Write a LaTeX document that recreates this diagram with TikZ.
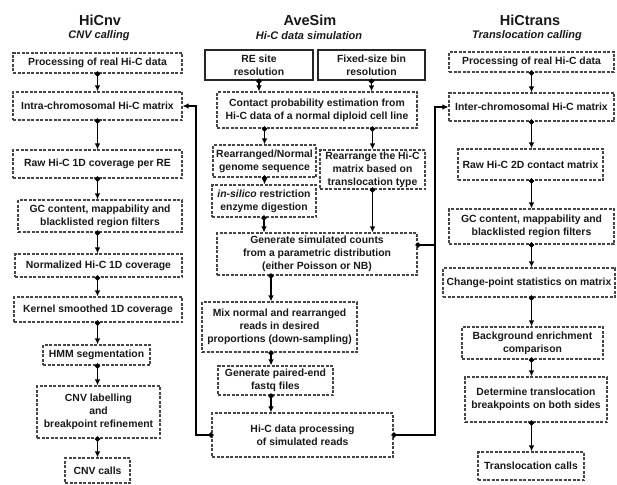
\documentclass[tikz,border=0pt]{standalone}
\usepackage{fontspec}
\setmainfont{Liberation Sans}
\usetikzlibrary{arrows.meta, positioning}
\definecolor{boxline}{RGB}{70, 70, 70}
\definecolor{boxtext}{RGB}{25, 25, 25}

\begin{document}
\begin{tikzpicture}[x=1pt, y=-1pt,
    dbox/.style={draw=boxline, dash pattern=on 3pt off 1.5pt, line width=1.1pt, align=center,
        inner sep=1pt, text=boxtext, font=\fontsize{10.4}{13}\selectfont\bfseries},
    sbox/.style={dbox, solid, draw=black!85, line width=1.5pt},
    title/.style={text=boxtext, font=\fontsize{14.5}{16}\selectfont\bfseries},
    subtitle/.style={text=boxtext, font=\fontsize{11}{13}\selectfont\bfseries\itshape},
    conn/.style={line width=1.7pt, shorten <=-2pt, {Circle[length=5pt]}-{Latex[length=6pt, width=5.5pt]}},
    joinline/.style={line width=1.7pt, shorten <=-2pt, {Circle[length=5pt]}-}]
        \useasboundingbox (0,0) rectangle (617,484);

        % Column titles
        \node[title] (tcnv) at (100,20) {HiCnv};
        \node[subtitle] (scnv) at (99,36) {CNV calling};
        \node[title] (tsim) at (310,20) {AveSim};
        \node[subtitle] (ssim) at (309,36) {Hi-C data simulation};
        \node[title] (ttrans) at (530,20) {HiCtrans};
        \node[subtitle] (strans) at (527,36) {Translocation calling};

        % HiCnv
        \node[dbox, minimum width=169, minimum height=20] (cnv1) at (97.5,63) {Processing of real Hi-C data};
        \node[dbox, minimum width=169, minimum height=28] (cnv2) at (97.5,106) {Intra-chromosomal Hi-C matrix};
        \node[dbox, minimum width=169, minimum height=28] (cnv3) at (97.5,164) {Raw Hi-C 1D coverage per RE};
        \node[dbox, minimum width=164, minimum height=32] (cnv4) at (100,216) {GC content, mappability and\\blacklisted region filters};
        \node[dbox, minimum width=167, minimum height=23] (cnv5) at (98.5,265.5) {Normalized Hi-C 1D coverage};
        \node[dbox, minimum width=168, minimum height=25] (cnv6) at (98,309.5) {Kernel smoothed 1D coverage};
        \node[dbox, minimum width=107, minimum height=20] (cnv7) at (96.5,355) {HMM segmentation};
        \node[dbox, minimum width=123, minimum height=52] (cnv8) at (98.5,412) {CNV labelling\\and\\breakpoint refinement};
        \node[dbox, minimum width=65, minimum height=25] (cnv9) at (97.5,470.5) {CNV calls};

        \foreach \a/\b in {cnv1/cnv2, cnv2/cnv3, cnv3/cnv4, cnv4/cnv5, cnv5/cnv6, cnv6/cnv7, cnv7/cnv8, cnv8/cnv9} {
            \draw[conn] (\a.south -| cnv1.south) -- (\b.north -| cnv1.south);
        }

        % AveSim
        \node[sbox, minimum width=108, minimum height=30] (resite) at (259,65) {RE site\\resolution};
        \node[sbox, minimum width=107, minimum height=30] (fixbin) at (371.5,65) {Fixed-size bin\\resolution};
        \node[dbox, minimum width=200, minimum height=36] (contact) at (317,110) {Contact probability estimation from\\Hi-C data of a normal diploid cell line};
        \node[dbox, minimum width=103, minimum height=32] (genome) at (264.5,161) {Rearranged/Normal\\genome sequence};
        \node[dbox, minimum width=105, minimum height=39] (rearr) at (372.5,169.5) {Rearrange the Hi-C\\matrix based on\\translocation type};
        \node[dbox, minimum width=104, minimum height=32] (digest) at (264,201) {\itshape in-silico\upshape{} restriction\\enzyme digestion};
        \node[dbox, minimum width=200, minimum height=42] (counts) at (317,254) {Generate simulated counts\\from a parametric distribution\\(either Poisson or NB)};
        \node[dbox, minimum width=155, minimum height=50] (mix) at (279.5,327) {Mix normal and rearranged\\reads in desired\\proportions (down-sampling)};
        \node[dbox, minimum width=115, minimum height=29] (fastq) at (275.5,380.5) {Generate paired-end\\fastq files};
        \node[dbox, minimum width=181, minimum height=44] (hicproc) at (302.5,435) {Hi-C data processing\\of simulated reads};

        \coordinate (mid) at (271,0);
        \coordinate (jl) at (196,0);
        \coordinate (jr) at (435,0);

        \draw[conn] (resite.south) -- (resite.south |- contact.north);
        \draw[conn] (fixbin.south) -- (fixbin.south |- contact.north);
        \draw[conn] (genome.north |- contact.south) -- (genome.north);
        \draw[conn] (rearr.north |- contact.south) -- (rearr.north);
        \draw[conn] (genome.south) -- (digest.north -| genome.south);
        \draw[conn] (digest.south) -- (digest.south |- counts.north);
        \draw[conn] (rearr.south) -- (rearr.south |- counts.north);
        \draw[conn] (counts.south -| mid) -- (mix.north -| mid);
        \draw[conn] (mix.south -| mid) -- (fastq.north -| mid);
        \draw[conn] (fastq.south -| mid) -- (hicproc.north -| mid);

        % HiCtrans
        \node[dbox, minimum width=165, minimum height=20] (trans1) at (531.5,62) {Processing of real Hi-C data};
        \node[dbox, minimum width=165, minimum height=28] (trans2) at (531.5,107) {Inter-chromosomal Hi-C matrix};
        \node[dbox, minimum width=145, minimum height=31] (trans3) at (530.5,164.5) {Raw Hi-C 2D contact matrix};
        \node[dbox, minimum width=165, minimum height=35] (trans4) at (531.5,226.5) {GC content, mappability and\\blacklisted region filters};
        \node[dbox, minimum width=172, minimum height=29] (trans5) at (529,282.5) {Change-point statistics on matrix};
        \node[dbox, minimum width=141, minimum height=32] (trans6) at (532.5,343) {Background enrichment\\comparison};
        \node[dbox, minimum width=142, minimum height=45] (trans7) at (536,399.5) {Determine translocation\\breakpoints on both sides};
        \node[dbox, minimum width=106, minimum height=28] (trans8) at (531,466) {Translocation calls};

        \foreach \a/\b in {trans1/trans2, trans2/trans3, trans3/trans4, trans4/trans5, trans5/trans6, trans6/trans7, trans7/trans8} {
            \draw[conn] (\a.south -| trans1.south) -- (\b.north -| trans1.south);
        }

        % feedback to both callers
        \draw[conn] (hicproc.west) -- (hicproc.west -| jl) |- (cnv2.east);
        \draw[conn] (hicproc.east) -- (hicproc.east -| jr) |- (trans2.west);
        \draw[joinline] ([yshift=9pt]counts.east) -- ([yshift=9pt]counts.east -| jr);
    \end{tikzpicture}
\end{document}
